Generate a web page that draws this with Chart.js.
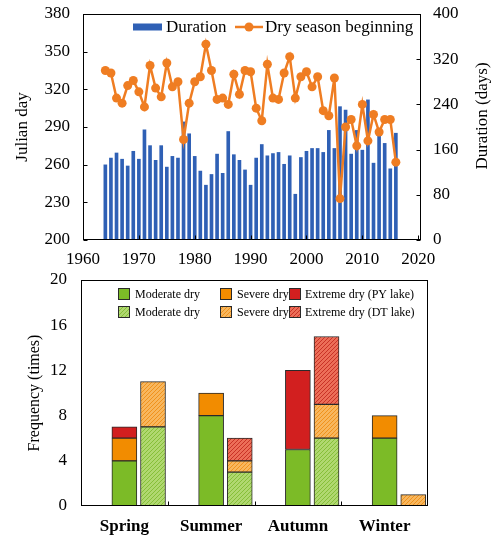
<!DOCTYPE html>
<html>
<head>
<meta charset="utf-8">
<script src="https://cdn.jsdelivr.net/npm/chart.js@4.4.1/dist/chart.umd.min.js"></script>
<style>
  body { margin: 0; background: #fff; }
  #wrap { position: relative; width: 500px; height: 538px; }
  canvas { position: absolute; left: 0; }
</style>
</head>
<body>
<div id="wrap">
  <canvas id="durationChart" width="500" height="270" style="top:0"></canvas>
  <canvas id="freqChart" width="500" height="268" style="top:270px"></canvas>
</div>
<script>
// ---- dry season timing, 1964-2016 ----
const years = [
  1964, 1965, 1966, 1967, 1968, 1969, 1970, 1971, 1972, 1973,
  1974, 1975, 1976, 1977, 1978, 1979, 1980, 1981, 1982, 1983,
  1984, 1985, 1986, 1987, 1988, 1989, 1990, 1991, 1992, 1993,
  1994, 1995, 1996, 1997, 1998, 1999, 2000, 2001, 2002, 2003,
  2004, 2005, 2006, 2007, 2008, 2009, 2010, 2011, 2012, 2013,
  2014, 2015, 2016
];
const dryStart = [
  335, 333, 313, 309, 323, 327, 318, 306, 339, 321,
  314, 341, 322, 326, 280, 309, 326, 330, 356, 335,
  312, 313, 308, 332, 316, 335, 334, 305, 295, 340,
  313, 312, 333, 346, 313, 330, 334, 322, 330, 303,
  299, 329, 233, 290, 296, 275, 308, 279, 300, 286,
  296, 296, 262
];
const duration = [
  133, 145, 154, 143, 131, 157, 143, 195, 167, 141,
  167, 129, 148, 145, 209, 188, 148, 122, 97, 116,
  152, 118, 192, 151, 141, 124, 97, 145, 169, 149,
  153, 155, 134, 149, 81, 146, 157, 162, 162, 155,
  194, 162, 236, 230, 152, 194, 159, 248, 136, 188,
  171, 126, 189
];
const yearTicks = [1960, 1970, 1980, 1990, 2000, 2010, 2020];

// ---- drought frequency by season ----
const seasons = ["Spring", "Summer", "Autumn", "Winter"];
const pyModerate = [4, 8, 5, 6];
const pySevere = [2, 2, 0, 2];
const pyExtreme = [1, 0, 7, 0];
const dtModerate = [7, 3, 6, 0];
const dtSevere = [4, 1, 3, 1];
const dtExtreme = [0, 2, 6, 0];
const boundaryTicks = [0.5, 1.5, 2.5];

const SERIF = "'Liberation Serif', 'Times New Roman', serif";
const BLUE = "#2f60b5";
const LINE_ORANGE = "#ef7d22";
const GREEN = "#7cbb27";
const ORANGE = "#f28c00";
const RED = "#d21f1f";
const EDGE = "#2a2a2a";
const DT_SHIFT = 0.33;

Chart.defaults.font.family = SERIF;
Chart.defaults.font.size = 17;
Chart.defaults.color = "#000";

function hatch(base, stripe) {
  const c = document.createElement("canvas");
  c.width = c.height = 4;
  const g = c.getContext("2d");
  g.fillStyle = base;
  g.fillRect(0, 0, 4, 4);
  g.strokeStyle = stripe;
  g.lineWidth = 1;
  g.beginPath();
  g.moveTo(0, 4); g.lineTo(4, 0);
  g.moveTo(-1, 1); g.lineTo(1, -1);
  g.moveTo(3, 5); g.lineTo(5, 3);
  g.stroke();
  return g.createPattern(c, "repeat");
}

const hatchGreen = hatch("#b0d870", "#86bf38");
const hatchOrange = hatch("#f8b75e", "#f0921c");
const hatchRed = hatch("#ec6e58", "#c93226");

// axis helpers: fixed box sizes, no label overflow padding
function fixWidth(w) {
  return s => { s.width = w; s.paddingTop = 0; s.paddingBottom = 0; };
}
function fixHeight(h) {
  return s => { s.height = h; s.paddingLeft = 0; s.paddingRight = 0; };
}

// box around the plot area plus short inward tick marks
function framePlugin(tickSpecs) {
  return {
    id: "frame",
    afterDatasetsDraw(chart) {
      const { ctx, chartArea: a } = chart;
      ctx.save();
      ctx.strokeStyle = "#000";
      ctx.lineWidth = 1;
      const l = Math.round(a.left) + 0.5, t = Math.round(a.top) + 0.5;
      const r = Math.round(a.right) - 0.5, b = Math.round(a.bottom) - 0.5;
      ctx.strokeRect(l, t, r - l, b - t);
      tickSpecs.forEach(spec => {
        const s = chart.scales[spec.scale];
        const values = spec.values ? spec.values : s.ticks.map(k => k.value);
        values.forEach(v => {
          const p = Math.round(s.getPixelForValue(v)) + 0.5;
          ctx.beginPath();
          if (s.isHorizontal()) { ctx.moveTo(p, b); ctx.lineTo(p, b - 4); }
          else if (s.position === "left") { ctx.moveTo(l, p); ctx.lineTo(l + 4, p); }
          else { ctx.moveTo(r, p); ctx.lineTo(r - 4, p); }
          ctx.stroke();
        });
      });
      ctx.restore();
    }
  };
}

// legend and right-hand title for the timing chart
const timingKeyPlugin = {
  id: "timingKey",
  afterDraw(chart) {
    const { ctx, chartArea: a } = chart;
    const y = a.top + 13;
    ctx.save();
    ctx.font = "17px " + SERIF;
    ctx.textBaseline = "middle";

    ctx.fillStyle = BLUE;
    ctx.fillRect(133, y - 3.5, 29, 7);
    ctx.fillStyle = "#000";
    ctx.fillText(chart.data.datasets[0].label, 166, y + 1);

    ctx.strokeStyle = LINE_ORANGE;
    ctx.lineWidth = 2.5;
    ctx.beginPath();
    ctx.moveTo(235, y); ctx.lineTo(263, y);
    ctx.stroke();
    ctx.fillStyle = LINE_ORANGE;
    ctx.beginPath();
    ctx.arc(249, y, 4.5, 0, Math.PI * 2);
    ctx.fill();
    ctx.fillStyle = "#000";
    ctx.fillText(chart.data.datasets[1].label, 265, y + 1);

    ctx.translate(483, 116);
    ctx.rotate(-Math.PI / 2);
    ctx.textAlign = "center";
    ctx.fillText("Duration (days)", 0, 0);
    ctx.restore();
  }
};

// two-row legend inside the frequency chart
const freqKeyPlugin = {
  id: "freqKey",
  afterDraw(chart) {
    const { ctx, chartArea: a } = chart;
    const cols = [[118, 135], [220, 237], [289, 305]];
    const rows = [a.top + 14, a.top + 32];
    ctx.save();
    ctx.font = "12px " + SERIF;
    ctx.textBaseline = "middle";
    chart.data.datasets.forEach((ds, i) => {
      const [sx, tx] = cols[i % 3];
      const y = rows[Math.floor(i / 3)];
      ctx.fillStyle = ds.backgroundColor;
      ctx.fillRect(sx, y - 6, 12, 12);
      ctx.strokeStyle = EDGE;
      ctx.lineWidth = 1;
      ctx.strokeRect(sx + 0.5, y - 5.5, 11, 11);
      ctx.fillStyle = "#000";
      ctx.fillText(ds.label, tx, y + 1);
    });
    ctx.restore();
  }
};

const noGrid = { display: false, drawTicks: false };

const timingChart = new Chart(document.getElementById("durationChart"), {
  type: "bar",
  data: {
    datasets: [
      {
        label: "Duration",
        data: years.map((yr, i) => ({ x: yr, y: duration[i] })),
        yAxisID: "y1",
        backgroundColor: BLUE,
        barThickness: 3,
        order: 2
      },
      {
        type: "line",
        label: "Dry season beginning",
        data: years.map((yr, i) => ({ x: yr, y: dryStart[i] })),
        yAxisID: "y",
        borderColor: LINE_ORANGE,
        backgroundColor: LINE_ORANGE,
        borderWidth: 2.5,
        pointRadius: 4.5,
        pointBorderWidth: 0,
        pointBackgroundColor: LINE_ORANGE,
        tension: 0,
        order: 1
      }
    ]
  },
  options: {
    responsive: false,
    animation: false,
    devicePixelRatio: 1,
    layout: { padding: { top: 14, left: 0, right: 0, bottom: 0 } },
    plugins: { legend: { display: false }, tooltip: { enabled: false } },
    scales: {
      x: {
        type: "linear",
        min: 1960,
        max: 2020.5,
        offset: false,
        grid: noGrid,
        border: { display: false },
        afterBuildTicks: s => { s.ticks = yearTicks.map(v => ({ value: v })); },
        afterFit: fixHeight(30),
        ticks: { padding: 9, maxRotation: 0, autoSkip: false, callback: v => String(v) }
      },
      y: {
        position: "left",
        min: 200,
        max: 380,
        grid: noGrid,
        border: { display: false },
        afterFit: fixWidth(83),
        ticks: { stepSize: 30, padding: 13, callback: v => String(v) },
        title: { display: true, text: "Julian day", padding: { top: 12, bottom: 0 } }
      },
      y1: {
        position: "right",
        min: 0,
        max: 400,
        grid: noGrid,
        border: { display: false },
        afterFit: fixWidth(79),
        ticks: { stepSize: 80, padding: 12, callback: v => String(v) }
      }
    }
  },
  plugins: [framePlugin([{ scale: "x" }, { scale: "y" }, { scale: "y1" }]), timingKeyPlugin]
});

function stackPoints(values, shift) {
  return values
    .map((v, i) => ({ x: i + shift, y: v }))
    .filter(p => p.y > 0);
}

const freqChart = new Chart(document.getElementById("freqChart"), {
  type: "bar",
  data: {
    datasets: [
      { label: "Moderate dry", data: stackPoints(pyModerate, 0), stack: "PY", backgroundColor: GREEN },
      { label: "Severe dry", data: stackPoints(pySevere, 0), stack: "PY", backgroundColor: ORANGE },
      { label: "Extreme dry (PY lake)", data: stackPoints(pyExtreme, 0), stack: "PY", backgroundColor: RED },
      { label: "Moderate dry", data: stackPoints(dtModerate, DT_SHIFT), stack: "DT", backgroundColor: hatchGreen },
      { label: "Severe dry", data: stackPoints(dtSevere, DT_SHIFT), stack: "DT", backgroundColor: hatchOrange },
      { label: "Extreme dry (DT lake)", data: stackPoints(dtExtreme, DT_SHIFT), stack: "DT", backgroundColor: hatchRed }
    ]
  },
  options: {
    responsive: false,
    animation: false,
    devicePixelRatio: 1,
    layout: { padding: { top: 10, left: 0, right: 72, bottom: 0 } },
    datasets: {
      bar: { barThickness: 25, grouped: false, borderColor: EDGE, borderWidth: 1, borderSkipped: false }
    },
    plugins: { legend: { display: false }, tooltip: { enabled: false } },
    scales: {
      x: {
        type: "linear",
        min: -0.5,
        max: 3.5,
        offset: false,
        grid: noGrid,
        border: { display: false },
        afterBuildTicks: s => { s.ticks = seasons.map((_, i) => ({ value: i })); },
        afterFit: fixHeight(32),
        ticks: {
          padding: 10,
          maxRotation: 0,
          autoSkip: false,
          font: { size: 17, weight: "bold" },
          callback: v => seasons[v]
        }
      },
      y: {
        stacked: true,
        min: 0,
        max: 20,
        grid: noGrid,
        border: { display: false },
        afterFit: fixWidth(81),
        ticks: { stepSize: 4, padding: 14 },
        title: { display: true, text: "Frequency (times)", font: { size: 16 }, padding: { top: 25, bottom: 0 } }
      }
    }
  },
  plugins: [framePlugin([{ scale: "x", values: boundaryTicks }]), freqKeyPlugin]
});
</script>
</body>
</html>
